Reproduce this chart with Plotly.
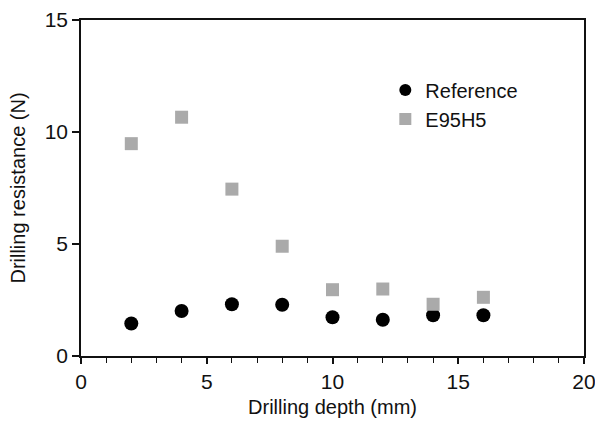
import plotly.graph_objects as go

depth = [2, 4, 6, 8, 10, 12, 14, 16]
reference = [1.45, 2.01, 2.31, 2.29, 1.73, 1.62, 1.82, 1.82]
e95h5 = [9.48, 10.66, 7.45, 4.90, 2.96, 2.99, 2.31, 2.62]

fig = go.Figure()
fig.add_trace(go.Scatter(x=depth, y=reference, mode="markers", name="Reference",
                         marker=dict(symbol="circle", size=14, color="black")))
fig.add_trace(go.Scatter(x=depth, y=e95h5, mode="markers", name="E95H5",
                         marker=dict(symbol="square", size=13, color="#aaaaaa")))

font = "Liberation Sans, Arial, sans-serif"
fig.update_layout(
    width=595, height=423,
    margin=dict(l=81, r=11, t=20, b=67, autoexpand=False),
    paper_bgcolor="white", plot_bgcolor="white",
    font=dict(family=font, size=21, color="#111111"),
    legend=dict(x=0.605, y=0.85, xanchor="left", yanchor="top",
                font=dict(size=20), bgcolor="rgba(0,0,0,0)", itemsizing="constant"),
    xaxis=dict(range=[0, 20], tickmode="array", tickvals=[0, 5, 10, 15, 20],
               ticks="outside", ticklen=6, tickwidth=1.5, tickcolor="#111",
               showline=True, linecolor="#111", linewidth=1.5, mirror=True,
               showgrid=False, zeroline=False, automargin=False,
               ticklabeloverflow="allow",
               minor=dict(dtick=1, ticks="outside", ticklen=5, tickwidth=1.2, tickcolor="#111", showgrid=False),
               title=dict(text="Drilling depth (mm)", font=dict(size=20), standoff=8),
               tickfont=dict(size=21)),
    yaxis=dict(range=[0, 15], tickmode="array", tickvals=[0, 5, 10, 15],
               ticks="outside", ticklen=7, tickwidth=1.5, tickcolor="#111",
               showline=True, linecolor="#111", linewidth=1.5, mirror=True,
               showgrid=False, zeroline=False, automargin=False,
               title=dict(text="Drilling resistance (N)", font=dict(size=20), standoff=14),
               tickfont=dict(size=21)),
)
fig.write_html("out.html", config={"displayModeBar": False},
               post_script="document.body.style.margin='0';document.body.style.overflow='hidden';")
